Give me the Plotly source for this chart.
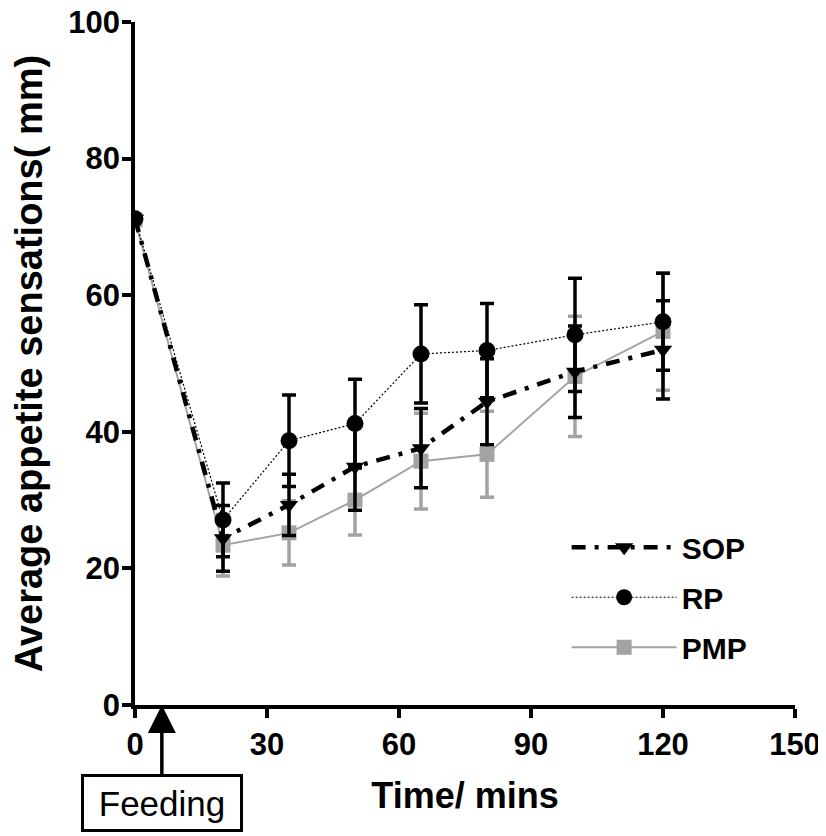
import plotly.graph_objects as go

# time points (mins) and mean appetite ratings (mm) with error bars
times = [0, 20, 35, 50, 65, 80, 100, 120]

sop = [71.2, 24.4, 29.3, 34.9, 37.6, 44.4, 48.8, 52.0]
sop_err = [0, 4.8, 4.5, 6.4, 5.8, 6.3, 6.7, 7.2]

rp = [71.2, 27.1, 38.7, 41.2, 51.4, 51.9, 54.2, 56.1]
rp_err = [0, 5.4, 6.7, 6.5, 7.2, 6.9, 8.3, 7.1]

pmp = [71.0, 23.4, 25.2, 30.0, 35.7, 36.7, 48.1, 54.7]
pmp_err = [0, 4.5, 4.7, 5.1, 7.0, 6.3, 8.8, 8.6]

x_ticks = [0, 30, 60, 90, 120, 150]
y_ticks = [0, 20, 40, 60, 80, 100]

FONT = "Liberation Sans, Arial, sans-serif"
GREY = "#a3a3a3"

fig = go.Figure()

# grey series first so the black ones sit on top
fig.add_trace(go.Scatter(
    x=times, y=pmp, name="PMP", mode="lines+markers",
    line=dict(color=GREY, width=2),
    marker=dict(symbol="square", size=15, color=GREY),
    error_y=dict(type="data", array=pmp_err, color=GREY, thickness=3.5, width=7),
    legendrank=3, legendgroup="c",
))
fig.add_trace(go.Scatter(
    x=times, y=sop, name="SOP", mode="lines+markers",
    line=dict(color="black", width=4.5, dash="14px,9px,4px,9px"),
    marker=dict(symbol="triangle-down", size=16, color="black"),
    error_y=dict(type="data", array=sop_err, color="black", thickness=3.5, width=7),
    legendrank=1, legendgroup="a",
))
fig.add_trace(go.Scatter(
    x=times, y=rp, name="RP", mode="lines+markers",
    line=dict(color="black", width=1.2, dash="2px,2px"),
    marker=dict(symbol="circle", size=17, color="black"),
    error_y=dict(type="data", array=rp_err, color="black", thickness=3.5, width=7),
    legendrank=2, legendgroup="b",
))

fig.add_annotation(
    x=6.1, y=0, xref="x", yref="y",
    ax=0, ay=98,
    text="Feeding", showarrow=True,
    arrowhead=2, arrowsize=1.6, arrowwidth=3.5, arrowcolor="black",
    font=dict(family=FONT, size=35, color="black"),
    bordercolor="black", borderwidth=3, borderpad=2, bgcolor="white",
    width=152, height=48,
)

axis_common = dict(
    showline=True, linecolor="black", linewidth=3.5,
    ticks="outside", ticklen=9, tickwidth=3.5, tickcolor="black",
    showgrid=False, zeroline=False, automargin=False,
    ticklabeloverflow="allow",
    tickfont=dict(family=FONT, size=31, color="black", weight="bold"),
)

fig.update_xaxes(
    range=[0, 150], tickvals=x_ticks,
    title=dict(text="Time/ mins", font=dict(family=FONT, size=36, color="black", weight="bold"), standoff=23),
    **axis_common,
)
fig.update_yaxes(
    range=[0, 100], tickvals=y_ticks, ticklabelstandoff=-4,
    title=dict(text="Average appetite sensations( mm)", font=dict(family=FONT, size=38, color="black", weight="bold"), standoff=36),
    **axis_common,
)

# page body has an 8px margin, so the figure is shrunk by that much
fig.update_layout(
    width=818, height=828,
    margin=dict(l=127, r=31, t=14, b=131),
    plot_bgcolor="white", paper_bgcolor="white",
    legend=dict(
        x=0.654, y=0.269, xanchor="left", yanchor="top",
        font=dict(family=FONT, size=30, color="black", weight="bold"),
        itemwidth=105, tracegroupgap=8, bgcolor="rgba(0,0,0,0)",
    ),
)

fig.write_html("out.html")
